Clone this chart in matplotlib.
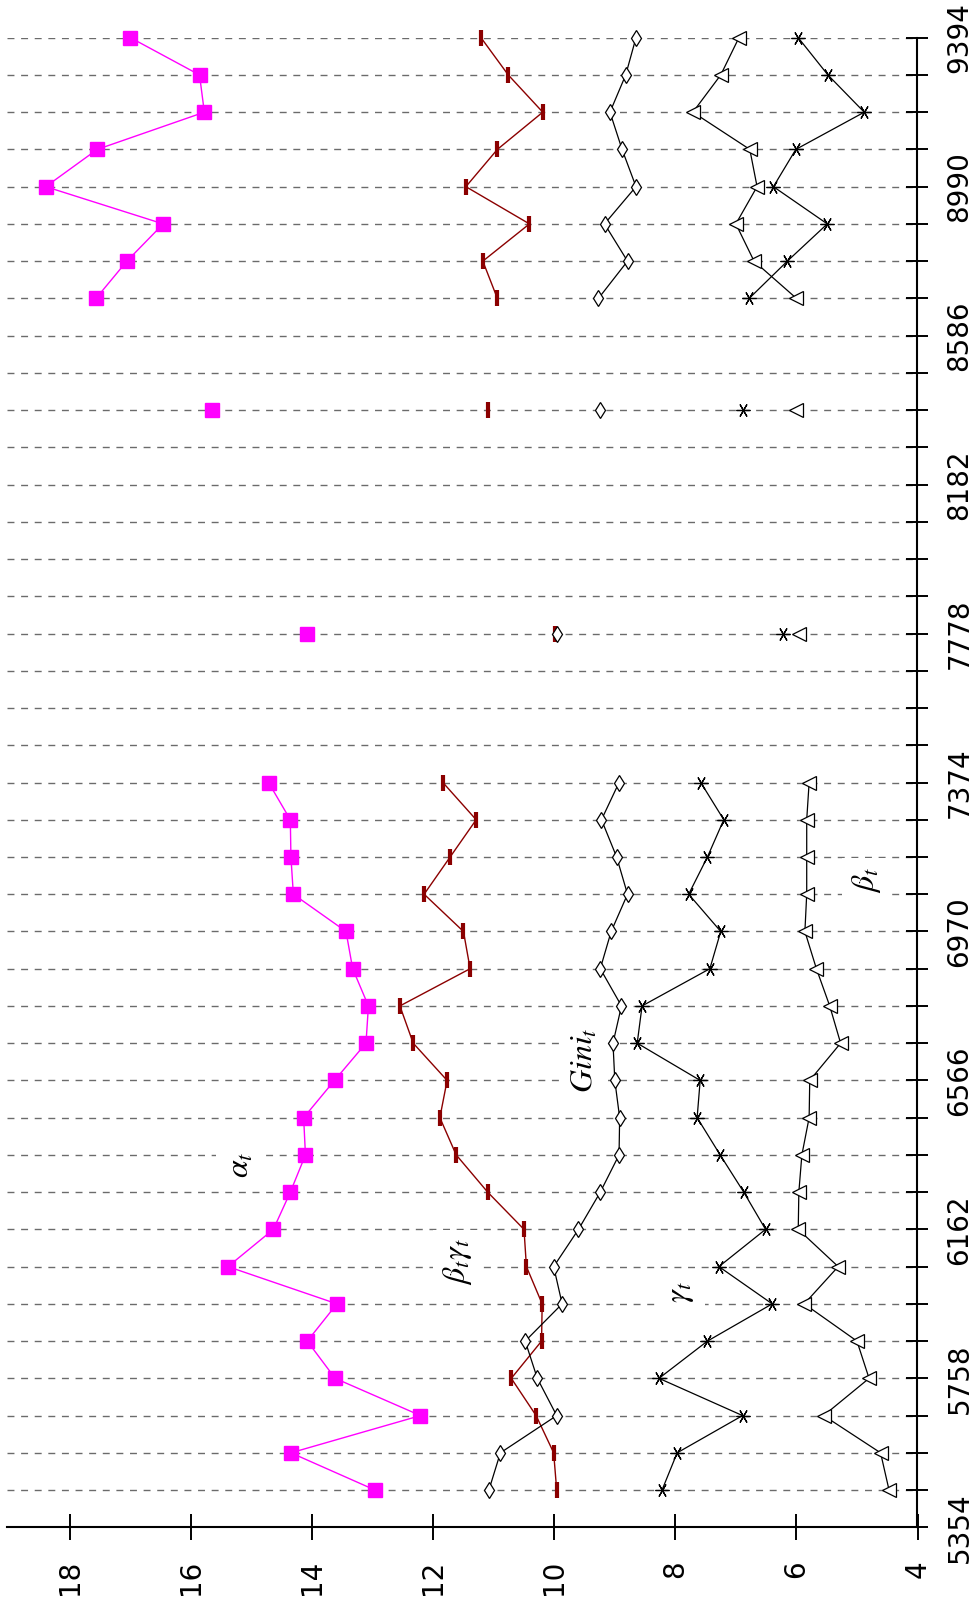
import matplotlib
matplotlib.use("Agg")
import matplotlib.pyplot as plt
import numpy as np

plt.rcParams['font.family'] = ['DejaVu Sans']
plt.rcParams['mathtext.fontset'] = 'stix'

# time points (rows); None where no observation
times = [5455, 5556, 5657, 5758, 5859, 5960, 6061, 6162, 6263, 6364,
         6465, 6566, 6667, 6768, 6869, 6970, 7071, 7172, 7273, 7374,
         7475, 7576, 7677, 7778, 7879, 7980, 8081, 8182, 8283, 8384,
         8485, 8586, 8687, 8788, 8889, 8990, 9091, 9192, 9293, 9394]

alpha_t = [12.96, 14.35, 12.21, 13.62, 14.08, 13.59, 15.39, 14.64, 14.36, 14.11,
           14.14, 13.63, 13.11, 13.07, 13.33, 13.44, 14.31, 14.35, 14.36, 14.72,
           None, None, None, 14.08, None, None, None, None, None, 15.66,
           None, None, 17.57, 17.06, 16.46, 18.40, 17.55, 15.78, 15.86, 17.00]

betagamma_t = [9.96, 10.01, 10.30, 10.71, 10.21, 10.20, 10.46, 10.50, 11.10, 11.62,
               11.89, 11.77, 12.33, 12.55, 11.39, 11.50, 12.15, 11.72, 11.29, 11.84,
               None, None, None, 9.98, None, None, None, None, None, 11.10,
               None, None, 10.94, 11.18, 10.41, 11.46, 10.94, 10.19, 10.76, 11.21]

gini_t = [11.08, 10.89, 9.96, 10.28, 10.48, 9.87, 10.01, 9.60, 9.24, 8.93,
          8.92, 9.00, 9.03, 8.89, 9.24, 9.06, 8.79, 8.97, 9.22, 8.93,
          None, None, None, 9.95, None, None, None, None, None, 9.24,
          None, None, 9.27, 8.79, 9.17, 8.65, 8.88, 9.08, 8.82, 8.65]

gamma_t = [8.22, 7.97, 6.89, 8.27, 7.47, 6.40, 7.28, 6.51, 6.87, 7.26,
           7.64, 7.59, 8.63, 8.55, 7.43, 7.25, 7.78, 7.47, 7.20, 7.58,
           None, None, None, 6.22, None, None, None, None, None, 6.89,
           None, None, 6.78, 6.15, 5.49, 6.38, 6.01, 4.88, 5.48, 5.97]

beta_t = [4.47, 4.61, 5.55, 4.80, 5.00, 5.87, 5.31, 5.97, 5.96, 5.91,
          5.79, 5.78, 5.27, 5.45, 5.67, 5.86, 5.83, 5.83, 5.83, 5.79,
          None, None, None, 5.96, None, None, None, None, None, 6.00,
          None, None, 6.00, 6.70, 7.00, 6.65, 6.77, 7.71, 7.25, 6.95]

time_labels = ['5354', '5758', '6162', '6566', '6970', '7374', '7778',
               '8182', '8586', '8990', '9394']
value_ticks = [4, 6, 8, 10, 12, 14, 16, 18]

# series annotations: (text, value, time)
labels = [(r'$\alpha_t$', 15.19, 6337),
          (r'$\beta_t\gamma_t$', 11.60, 6074),
          (r'$\gamma_t$', 7.91, 5992),
          (r'$Gini_t$', 9.50, 6621),
          (r'$\beta_t$', 4.84, 7110)]


def arr(v):
    return np.array([np.nan if x is None else x for x in v], dtype=float)


W, H = 978, 1611
fig = plt.figure(figsize=(W / 100, H / 100), dpi=100)
x0, x1 = 7, 917.5
y_top, y_bot = 37.7, 1527.3
ax = fig.add_axes([x0 / W, (H - y_bot) / H, (x1 - x0) / W, (y_bot - y_top) / H])

t = np.array(times, dtype=float)

ax.plot(arr(alpha_t), t, color='#ff00ff', lw=1.0, marker='s', ms=9.5,
        mec='#ff00ff', mfc='#ff00ff', zorder=5, clip_on=False)
ax.plot(arr(betagamma_t), t, color='#8b0000', lw=1.0, marker='|', ms=12,
        mew=3, zorder=5, clip_on=False)
ax.plot(arr(gini_t), t, color='black', lw=0.9, marker='d', ms=8.5,
        mfc='white', mec='black', mew=0.9, zorder=5, clip_on=False)
ax.plot(arr(gamma_t), t, color='black', lw=0.9, marker=(6, 2, 90), ms=10,
        mec='black', mew=0.9, zorder=5, clip_on=False)
ax.plot(arr(beta_t), t, color='black', lw=0.9, marker='<', ms=10.5,
        mfc='white', mec='black', mew=0.9, zorder=5, clip_on=False)

ax.set_xlim(19.04, 4)
ax.set_ylim(5354, 9394)

# time axis on the right
yt = [5354] + times
ax.set_yticks(yt)
lab_iter = iter(time_labels)
ylabs = []
for v in yt:
    if (v - 5354) % 404 == 0:
        ylabs.append(next(lab_iter))
    else:
        ylabs.append('')
ax.set_yticklabels(ylabs)
ax.yaxis.tick_right()
ax.tick_params(axis='y', direction='inout', length=16.5, width=1.4,
               labelsize=20, pad=12, colors='black')
for lbl in ax.get_yticklabels():
    lbl.set_rotation(90)
    lbl.set_va('center')
    lbl.set_ha('left')

ax.set_xticks(value_ticks)
ax.set_xticklabels([str(v) for v in value_ticks])
ax.tick_params(axis='x', direction='inout', length=19, width=1.4,
               labelsize=20, pad=14)
for lbl in ax.get_xticklabels():
    lbl.set_rotation(90)

ax.yaxis.grid(True, linestyle=(0, (5, 4.8)), color='#6b6b6b', lw=1.0)
ax.xaxis.grid(False)
ax.set_axisbelow(True)

for s in ['left', 'top']:
    ax.spines[s].set_visible(False)
for s in ['bottom', 'right']:
    ax.spines[s].set_linewidth(1.5)
    ax.spines[s].set_color('black')

for txt, v, tt in labels:
    ax.text(v, tt, txt, rotation=90, fontsize=23, ha='center', va='center',
            zorder=4, bbox=dict(facecolor='white', edgecolor='none', pad=6))

ax.set_facecolor('white')
fig.patch.set_facecolor('white')
fig.savefig('out.png', dpi=100, facecolor='white')
